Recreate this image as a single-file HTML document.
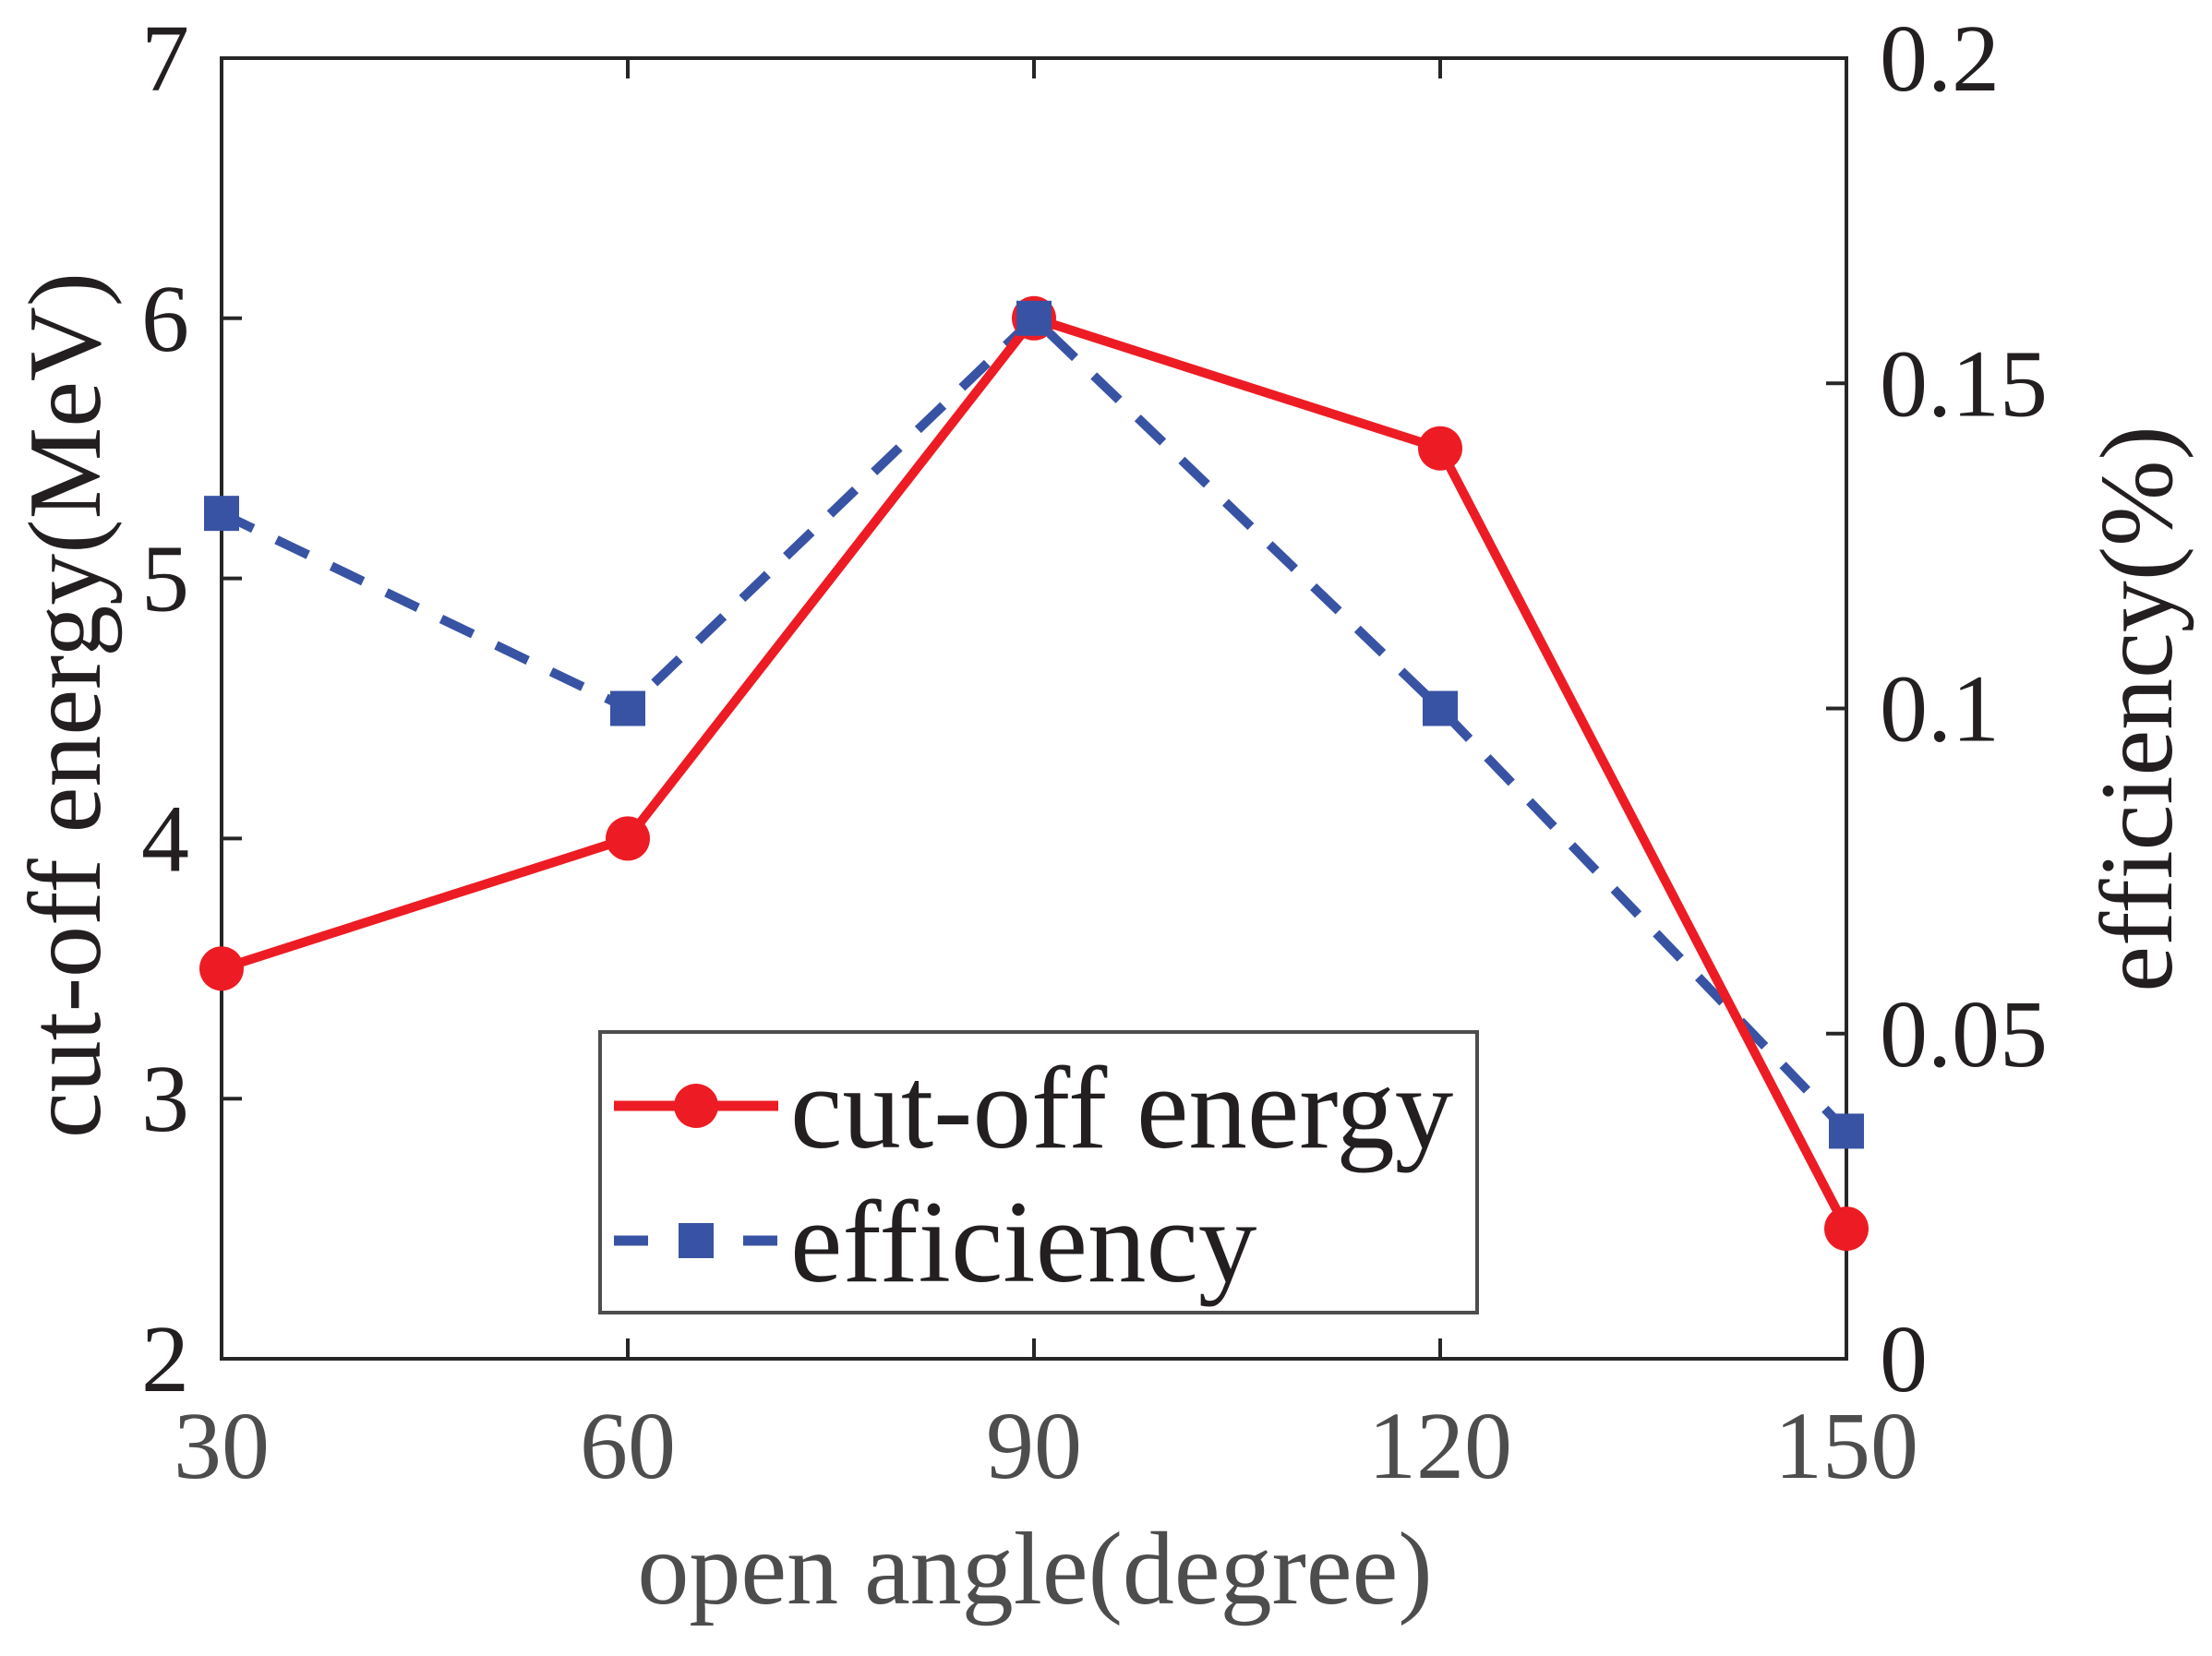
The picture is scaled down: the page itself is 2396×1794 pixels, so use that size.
<!DOCTYPE html>
<html><head><meta charset="utf-8"><style>
html,body{margin:0;padding:0;background:#fff;}
svg{display:block;}
text{font-family:"Liberation Serif",serif;}
</style></head><body>
<svg id="chart" width="2396" height="1794" viewBox="0 0 2396 1794" xmlns="http://www.w3.org/2000/svg">
<g id="g"></g>
</svg>
<script>
const categories = [30, 60, 90, 120, 150];
const energyValues = [3.5, 4, 6, 5.5, 2.5];
const efficiencyValues = [0.13, 0.1, 0.16, 0.1, 0.035];
const xTicks = [30, 60, 90, 120, 150];
const yLeftTicks = [2, 3, 4, 5, 6, 7];
const yRightTicks = [0, 0.05, 0.1, 0.15, 0.2];
const yRightTickLabels = ["0", "0.05", "0.1", "0.15", "0.2"];

const L = 240, R = 2000, T = 63, B = 1472;
const xS = v => L + (v - 30) / 120 * (R - L);
const yL = v => B - (v - 2) / 5 * (B - T);
const yR = v => B - v / 0.2 * (B - T);
const NS = "http://www.w3.org/2000/svg";
const g = document.getElementById('g');
function mk(tag, attrs, parent) {
  const e = document.createElementNS(NS, tag);
  for (const k in attrs) e.setAttribute(k, attrs[k]);
  (parent || g).appendChild(e);
  return e;
}
const box = mk('rect', {x: L, y: T, width: R - L, height: B - T, fill: 'none', stroke: '#262626', 'stroke-width': 4});



xTicks.forEach(v => {
  const x = xS(v);
  const t1 = mk('line', {x1: x, y1: B, x2: x, y2: B - 22, stroke: '#262626', 'stroke-width': 4});
  
  
  const t2 = mk('line', {x1: x, y1: T, x2: x, y2: T + 22, stroke: '#262626', 'stroke-width': 4});
  
  
  const lb = mk('text', {x: x, y: 1601, 'text-anchor': 'middle', 'font-size': 104, fill: '#4d4d4d'});
  lb.textContent = v;
  
  
});
yLeftTicks.forEach(v => {
  const y = yL(v);
  const t = mk('line', {x1: L, y1: y, x2: L + 22, y2: y, stroke: '#262626', 'stroke-width': 4});
  
  
  const lb = mk('text', {x: 205, y: y + 35, 'text-anchor': 'end', 'font-size': 104, fill: '#231f20'});
  lb.textContent = v;
  
  
});
yRightTicks.forEach((v, i) => {
  const y = yR(v);
  const t = mk('line', {x1: R, y1: y, x2: R - 22, y2: y, stroke: '#262626', 'stroke-width': 4});
  
  
  const lb = mk('text', {x: 2036, y: y + 35, 'text-anchor': 'start', 'font-size': 104, fill: '#231f20'});
  lb.textContent = yRightTickLabels[i];
  
  
});
const xt = mk('text', {x: 1121, y: 1737, 'text-anchor': 'middle', 'font-size': 112, fill: '#4d4d4d'});
xt.textContent = 'open angle(degree)';


const ylt = mk('text', {x: 0, y: 0, 'text-anchor': 'middle', 'font-size': 112, fill: '#231f20', transform: 'translate(108,764) rotate(-90)'});
ylt.textContent = 'cut-off energy(MeV)';


const yrt = mk('text', {x: 0, y: 0, 'text-anchor': 'middle', 'font-size': 112, fill: '#231f20', transform: 'translate(2352,768) rotate(-90)'});
yrt.textContent = 'efficiency(%)';



const effPts = categories.map((c, i) => xS(c) + ',' + yR(efficiencyValues[i])).join(' ');
const effLine = mk('polyline', {points: effPts, fill: 'none', stroke: '#3953a4', 'stroke-width': 10, 'stroke-dasharray': '38,28'});


const enPts = categories.map((c, i) => xS(c) + ',' + yL(energyValues[i])).join(' ');
const enLine = mk('polyline', {points: enPts, fill: 'none', stroke: '#ed1c24', 'stroke-width': 10, 'stroke-linejoin': 'round'});


categories.forEach((c, i) => {
  const m = mk('circle', {cx: xS(c), cy: yL(energyValues[i]), r: 24, fill: '#ed1c24'});
  
  
});
categories.forEach((c, i) => {
  const m = mk('rect', {x: xS(c) - 19, y: yR(efficiencyValues[i]) - 19, width: 38, height: 38, fill: '#3953a4'});
  
  
});

const lg = mk('g', {});


mk('rect', {x: 650, y: 1118, width: 950, height: 304, fill: '#fff', stroke: '#4d4d4d', 'stroke-width': 4}, lg);
const l1 = mk('line', {x1: 665, y1: 1198, x2: 843, y2: 1198, stroke: '#ed1c24', 'stroke-width': 11}, lg);


mk('circle', {cx: 754, cy: 1198, r: 24, fill: '#ed1c24'}, lg);
const lt1 = mk('text', {x: 856, y: 1243, 'font-size': 127, fill: '#231f20'}, lg);
lt1.textContent = 'cut-off energy';


const l2 = mk('line', {x1: 665, y1: 1344, x2: 843, y2: 1344, stroke: '#3953a4', 'stroke-width': 11, 'stroke-dasharray': '37,33'}, lg);


mk('rect', {x: 735, y: 1325, width: 38, height: 38, fill: '#3953a4'}, lg);
const lt2 = mk('text', {x: 856, y: 1388, 'font-size': 127, fill: '#231f20'}, lg);
lt2.textContent = 'efficiency';


</script>
</body></html>
